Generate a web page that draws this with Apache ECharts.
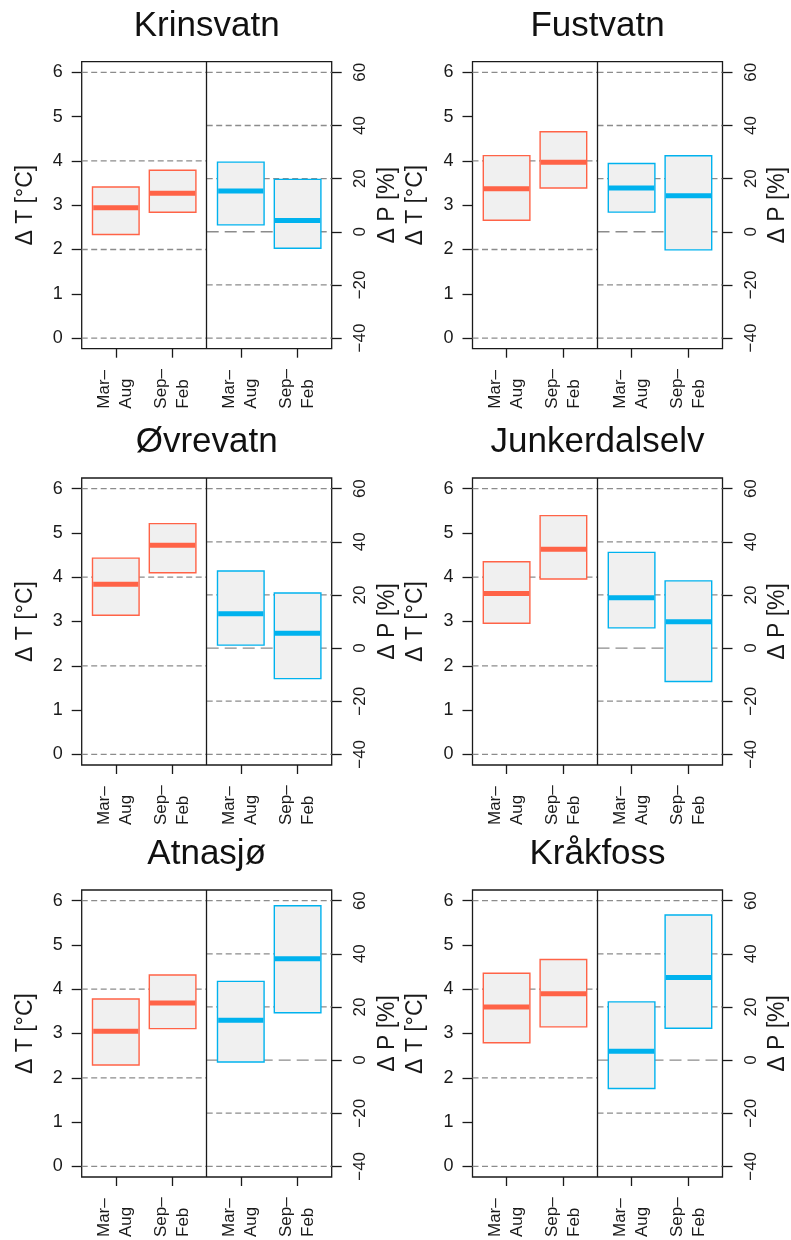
<!DOCTYPE html>
<html>
<head>
<meta charset="utf-8">
<script src="https://cdn.jsdelivr.net/npm/echarts@6/dist/echarts.min.js"></script>
<style>
  html, body { margin: 0; padding: 0; background: #fff; }
  #chart { width: 791px; height: 1240px; }
</style>
</head>
<body>
<div id="chart"></div>
<script>
// Stations, one panel each
const stations = ['Krinsvatn', 'Fustvatn', 'Øvrevatn', 'Junkerdalselv', 'Atnasjø', 'Kråkfoss'];
const seasonLabels = ['Mar–\nAug', 'Sep–\nFeb', 'Mar–\nAug', 'Sep–\nFeb'];

// Temperature change ΔT [°C] per station: [low, median, high]
const dT_MarAug = [[2.34, 2.94, 3.41], [2.66, 3.37, 4.12], [3.14, 3.84, 4.43], [2.96, 3.63, 4.35], [2.29, 3.05, 3.78], [2.79, 3.60, 4.36]];
const dT_SepFeb = [[2.84, 3.27, 3.79], [3.39, 3.97, 4.66], [4.10, 4.72, 5.21], [3.96, 4.63, 5.39], [3.11, 3.69, 4.32], [3.15, 3.90, 4.67]];
// Precipitation change ΔP [%] per station: [low, median, high]
const dP_MarAug = [[2.6, 15.3, 26.2], [7.4, 16.5, 25.7], [1.1, 12.9, 29.0], [7.6, 18.9, 36.0], [-0.7, 15.0, 29.6], [-10.7, 3.3, 21.9]];
const dP_SepFeb = [[-6.2, 4.2, 19.7], [-6.8, 13.6, 28.6], [-11.5, 5.6, 20.7], [-12.6, 9.9, 25.3], [17.8, 38.1, 58.1], [12.0, 31.1, 54.6]];

// Axis ticks and reference lines
const tTicks = [0, 1, 2, 3, 4, 5, 6];
const pTicks = [-40, -20, 0, 20, 40, 60];
const tGridLines = [0, 2, 4, 6];
const pGridLines = [-40, -20, 0, 20, 40, 60];

// Layout of the x scale: two temperature slots, divider, two precipitation slots
const X_MAX = 4.4, X_DIV = 2.2;
const slotX = [0.6, 1.6, 2.8, 3.8];
const HALF_W = 0.41;

const FONT = "'Liberation Sans', Arial, Helvetica, sans-serif";
const RED = '#ff6347';
const BLUE = '#00b2ee';
const GRID_GREY = '#8c8c8c';
const INK = '#1a1a1a';
const TEXT = '#1a1a1a';

const colLeft = [81.7, 472.5];
const rowTop = [61.7, 478, 890];
const PW = 250, PH = 287;

const fmtSigned = v => (v < 0 ? '\u2212' + Math.abs(v) : String(v));

function boxRender(color) {
  return function (params, api) {
    const x = api.value(0), lo = api.value(1), med = api.value(2), hi = api.value(3);
    const a = api.coord([x - HALF_W, hi]);
    const b = api.coord([x + HALF_W, lo]);
    const m1 = api.coord([x - HALF_W, med]);
    const m2 = api.coord([x + HALF_W, med]);
    return {
      type: 'group',
      children: [
        { type: 'rect', shape: { x: a[0], y: a[1], width: b[0] - a[0], height: b[1] - a[1] },
          style: { fill: '#f0f0f0', stroke: color, lineWidth: 1.4 } },
        { type: 'line', shape: { x1: m1[0] + 0.7, y1: m1[1], x2: m2[0] - 0.7, y2: m2[1] },
          style: { stroke: color, lineWidth: 5 } }
      ]
    };
  };
}

function gridRender(x0, x1) {
  return function (params, api) {
    const v = api.value(0);
    const p0 = api.coord([x0, v]);
    const p1 = api.coord([x1, v]);
    const isZero = api.value(1) === 1;
    return {
      type: 'line',
      shape: { x1: p0[0], y1: p0[1], x2: p1[0], y2: p1[1] },
      style: { stroke: GRID_GREY, lineWidth: 1.3, lineDash: isZero ? [12, 6] : [6, 3.5] }
    };
  };
}

const grids = [], xAxes = [], yAxes = [], series = [], titles = [];

stations.forEach((name, i) => {
  const col = i % 2, row = Math.floor(i / 2);
  const left = colLeft[col], top = rowTop[row];
  grids.push({ left: left, top: top, width: PW, height: PH, show: true,
    borderColor: INK, borderWidth: 1.3, backgroundColor: 'transparent', containLabel: false });

  titles.push({ text: name, left: left + PW / 2, top: top - 53, textAlign: 'center', padding: 0,
    textStyle: { fontFamily: FONT, fontSize: 35, fontWeight: 'normal', color: '#111' } });

  xAxes.push({
    type: 'value', gridIndex: i, min: 0, max: X_MAX,
    axisLine: { show: false, onZero: false },
    splitLine: { show: false },
    axisTick: { show: true, customValues: slotX, length: 9, lineStyle: { color: INK, width: 1.3 } },
    axisLabel: {
      customValues: slotX, rotate: 90, align: 'left', verticalAlign: 'middle', margin: 60,
      fontFamily: FONT, fontSize: 17, lineHeight: 22, color: TEXT,
      formatter: v => seasonLabels[slotX.indexOf(Math.round(v * 10) / 10)] || ''
    }
  });

  yAxes.push({
    type: 'value', gridIndex: i, position: 'left', min: -0.24, max: 6.24,
    name: 'Δ T [°C]', nameLocation: 'middle', nameGap: 45,
    nameTextStyle: { fontFamily: FONT, fontSize: 23, color: TEXT },
    axisLine: { show: false, onZero: false },
    splitLine: { show: false },
    axisTick: { show: true, customValues: tTicks, length: 10, lineStyle: { color: INK, width: 1.3 } },
    axisLabel: { customValues: tTicks, margin: 19, fontFamily: FONT, fontSize: 18, color: TEXT }
  });
  yAxes.push({
    type: 'value', gridIndex: i, position: 'right', min: -44, max: 64,
    name: 'Δ P [%]', nameLocation: 'middle', nameGap: 44,
    nameTextStyle: { fontFamily: FONT, fontSize: 23, color: TEXT },
    axisLine: { show: false, onZero: false },
    splitLine: { show: false },
    axisTick: { show: true, customValues: pTicks, length: 10, lineStyle: { color: INK, width: 1.3 } },
    axisLabel: { customValues: pTicks, rotate: 90, margin: 20, fontFamily: FONT, fontSize: 17, color: TEXT,
      formatter: fmtSigned }
  });

  const yT = 2 * i, yP = 2 * i + 1;

  // dashed reference lines: temperature half, with the solid divider between halves
  series.push({
    type: 'custom', xAxisIndex: i, yAxisIndex: yT, silent: true, z: 1,
    renderItem: gridRender(0, X_DIV),
    data: tGridLines.map(v => [v, 0]),
    markLine: { silent: true, symbol: 'none', label: { show: false },
      lineStyle: { color: INK, width: 1.3, type: 'solid' }, data: [{ xAxis: X_DIV }] }
  });
  // dashed reference lines: precipitation half (long dashes at 0 %)
  series.push({
    type: 'custom', xAxisIndex: i, yAxisIndex: yP, silent: true, z: 1,
    renderItem: gridRender(X_DIV, X_MAX),
    data: pGridLines.map(v => [v, v === 0 ? 1 : 0])
  });

  // temperature boxes
  series.push({
    type: 'custom', xAxisIndex: i, yAxisIndex: yT, silent: true, z: 2,
    renderItem: boxRender(RED),
    data: [[slotX[0], ...dT_MarAug[i]], [slotX[1], ...dT_SepFeb[i]]]
  });
  // precipitation boxes
  series.push({
    type: 'custom', xAxisIndex: i, yAxisIndex: yP, silent: true, z: 2,
    renderItem: boxRender(BLUE),
    data: [[slotX[2], ...dP_MarAug[i]], [slotX[3], ...dP_SepFeb[i]]]
  });
});

const chart = echarts.init(document.getElementById('chart'), null, { renderer: 'canvas' });
chart.setOption({
  backgroundColor: '#ffffff',
  animation: false,
  title: titles,
  grid: grids,
  xAxis: xAxes,
  yAxis: yAxes,
  series: series
});
</script>
</body>
</html>
